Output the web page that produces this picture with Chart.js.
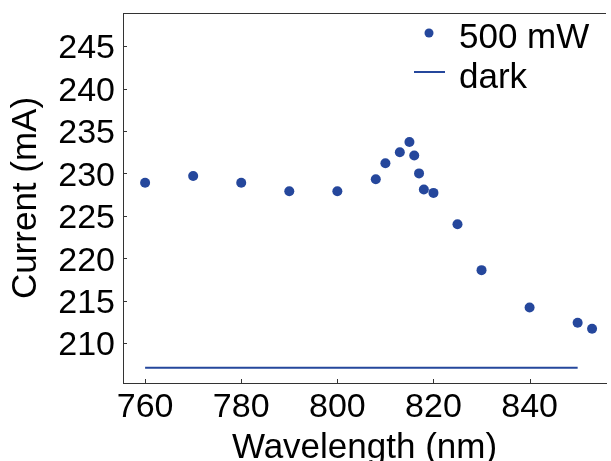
<!DOCTYPE html>
<html>
<head>
<meta charset="utf-8">
<script src="https://cdn.jsdelivr.net/npm/chart.js@4"></script>
<style>
  html, body { margin: 0; padding: 0; background: #fff; }
</style>
</head>
<body>
<canvas id="chart" width="611" height="461"></canvas>
<script>
// photocurrent vs wavelength, 500 mW illumination and dark level
const wavelength = [760, 770, 780, 790, 800, 808, 810, 813, 815, 816, 817, 818, 820, 825, 830, 840, 850, 853];
const current500 = [228.9, 229.7, 228.9, 227.9, 227.9, 229.3, 231.2, 232.5, 233.7, 232.1, 230.0, 228.1, 227.7, 224.0, 218.6, 214.2, 212.4, 211.7];
const darkWavelength = [760, 850];
const darkCurrent = [207.1, 207.1];
const xTicks = [760, 780, 800, 820, 840];
const yTicks = [210, 215, 220, 225, 230, 235, 240, 245];
const seriesLabels = ["500 mW", "dark"];

const blue = "#25479c";
const axisColor = "#333";
const family = "'Liberation Sans', Arial, sans-serif";

const ctx = document.getElementById("chart");

// top border line and inward tick marks
const frame = {
    id: "frame",
    afterDraw(chart) {
        const { ctx, chartArea, scales } = chart;
        ctx.save();
        ctx.strokeStyle = axisColor;
        ctx.lineWidth = 1;
        ctx.beginPath();
        ctx.moveTo(chartArea.left, chartArea.top + 0.5);
        ctx.lineTo(chartArea.right, chartArea.top + 0.5);
        scales.x.ticks.forEach((t) => {
            const px = Math.round(scales.x.getPixelForValue(t.value)) + 0.5;
            ctx.moveTo(px, chartArea.bottom);
            ctx.lineTo(px, chartArea.bottom - 4);
        });
        scales.y.ticks.forEach((t) => {
            const py = Math.round(scales.y.getPixelForValue(t.value)) + 0.5;
            ctx.moveTo(chartArea.left, py);
            ctx.lineTo(chartArea.left + 4, py);
        });
        ctx.stroke();
        ctx.restore();
    },
};

// legend in the top right corner of the plot
const cornerLegend = {
    id: "cornerLegend",
    afterDraw(chart) {
        const { ctx } = chart;
        const sets = chart.data.datasets;
        ctx.save();
        ctx.font = `35px ${family}`;
        ctx.fillStyle = "#000";
        ctx.textBaseline = "alphabetic";
        ctx.fillText(sets[0].label, 459, 48);
        ctx.fillText(sets[1].label, 459, 88);

        ctx.fillStyle = sets[0].backgroundColor;
        ctx.beginPath();
        ctx.arc(429, 33, 4.5, 0, Math.PI * 2);
        ctx.fill();

        ctx.strokeStyle = sets[1].borderColor;
        ctx.lineWidth = 2;
        ctx.beginPath();
        ctx.moveTo(414, 72);
        ctx.lineTo(445, 72);
        ctx.stroke();
        ctx.restore();
    },
};

new Chart(ctx, {
    type: "scatter",
    data: {
        datasets: [
            {
                label: seriesLabels[0],
                data: wavelength.map((w, i) => ({ x: w, y: current500[i] })),
                backgroundColor: blue,
                borderColor: blue,
                pointRadius: 5,
                pointBorderWidth: 0,
                showLine: false,
            },
            {
                label: seriesLabels[1],
                data: darkWavelength.map((w, i) => ({ x: w, y: darkCurrent[i] })),
                borderColor: blue,
                backgroundColor: blue,
                borderWidth: 2,
                pointRadius: 0,
                showLine: true,
            },
        ],
    },
    options: {
        responsive: false,
        animation: false,
        layout: {
            padding: { top: 13, right: 0, bottom: 0, left: 0 },
        },
        plugins: {
            legend: { display: false },
            tooltip: { enabled: false },
        },
        scales: {
            x: {
                type: "linear",
                min: 755.4,
                max: 855.9,
                afterBuildTicks: (scale) => {
                    scale.ticks = xTicks.map((v) => ({ value: v }));
                },
                afterFit: (scale) => {
                    scale.height = 78;
                    scale.paddingLeft = 0;
                    scale.paddingRight = 0;
                },
                grid: { display: false, drawTicks: false },
                border: { display: true, color: axisColor, width: 1 },
                ticks: {
                    color: "#000",
                    padding: 4,
                    font: { family: family, size: 34 },
                },
                title: {
                    display: true,
                    text: "Wavelength (nm)",
                    color: "#000",
                    font: { family: family, size: 35 },
                    padding: { top: 0, bottom: -8 },
                },
            },
            y: {
                type: "linear",
                min: 205.3,
                max: 248.9,
                afterBuildTicks: (scale) => {
                    scale.ticks = yTicks.map((v) => ({ value: v }));
                },
                afterFit: (scale) => {
                    scale.width = 123;
                    scale.paddingTop = 0;
                    scale.paddingBottom = 0;
                },
                grid: { display: false, drawTicks: false },
                border: { display: true, color: axisColor, width: 1 },
                ticks: {
                    color: "#000",
                    padding: 8,
                    labelOffset: 3,
                    font: { family: family, size: 34 },
                },
                title: {
                    display: true,
                    text: "Current (mA)",
                    color: "#000",
                    font: { family: family, size: 35 },
                    padding: { top: 5, bottom: 0 },
                },
            },
        },
    },
    plugins: [frame, cornerLegend],
});
</script>
</body>
</html>
